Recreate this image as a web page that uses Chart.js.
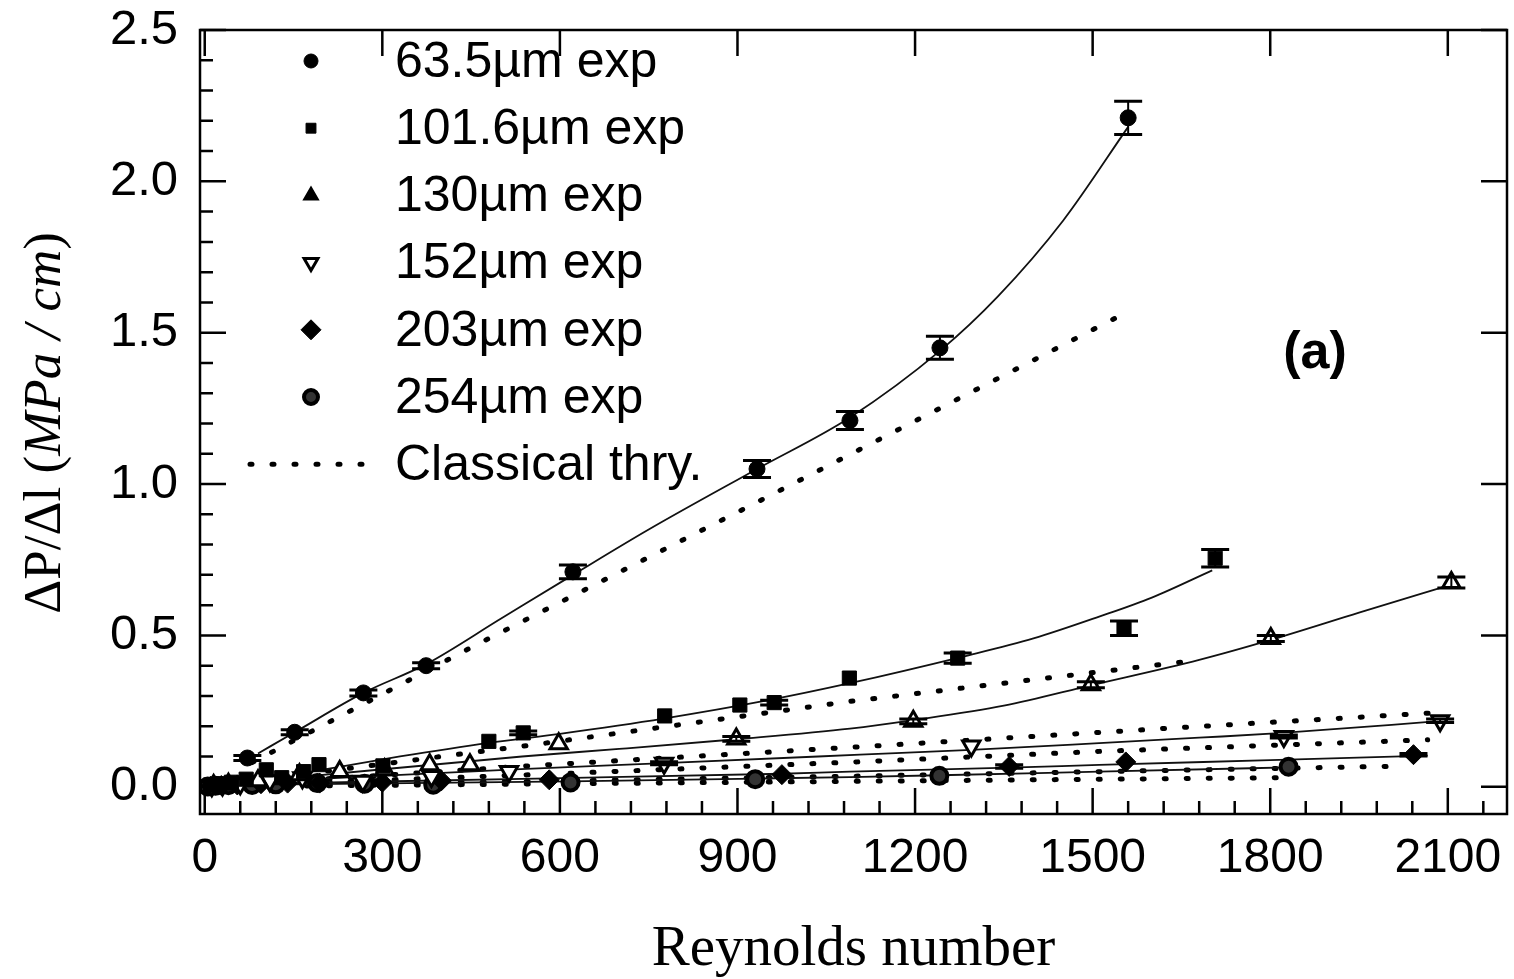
<!DOCTYPE html>
<html>
<head>
<meta charset="utf-8">
<title>Pressure drop vs Reynolds number</title>
<script src="https://cdn.jsdelivr.net/npm/chart.js@4.4.1/dist/chart.umd.min.js"></script>
<style>
  html, body { margin: 0; padding: 0; background: #fff; }
</style>
</head>
<body>
<canvas id="myChart" width="1514" height="979"></canvas>
<script>
// tick labels
const xTicks = [0, 300, 600, 900, 1200, 1500, 1800, 2100];
const yTicks = [0.0, 0.5, 1.0, 1.5, 2.0, 2.5];

// 63.5 um
const re63 = [72, 152, 268, 374, 622, 933, 1090, 1242, 1560];
const dp63 = [0.095, 0.18, 0.31, 0.40, 0.71, 1.05, 1.21, 1.45, 2.21];
const err63 = [0.008, 0.008, 0.01, 0.01, 0.023, 0.028, 0.03, 0.038, 0.055];
const fitRe63 = [90, 152, 268, 374, 500, 622, 750, 933, 1090, 1242, 1340, 1450, 1560];
const fitDp63 = [0.11, 0.18, 0.31, 0.405, 0.555, 0.70, 0.85, 1.05, 1.22, 1.44, 1.62, 1.87, 2.18];
const thRe63 = [80, 450, 933, 1556];
const thDp63 = [0.08, 0.46, 0.94, 1.566];

// 101.6 um
const re101 = [10, 25, 45, 70, 104, 130, 167, 193, 301, 480, 538, 777, 904, 962, 1089, 1272, 1553, 1707];
const dp101 = [0.005, 0.01, 0.015, 0.025, 0.056, 0.03, 0.05, 0.073, 0.069, 0.15, 0.178, 0.234, 0.27, 0.278, 0.359, 0.425, 0.524, 0.755];
const err101 = [0, 0, 0, 0, 0, 0, 0, 0, 0, 0, 0.006, 0, 0, 0.008, 0, 0.017, 0.024, 0.029];
const fitRe101 = [180, 330, 480, 600, 775, 950, 1090, 1281, 1400, 1511, 1600, 1702];
const fitDp101 = [0.05, 0.10, 0.145, 0.175, 0.225, 0.285, 0.342, 0.43, 0.49, 0.562, 0.625, 0.715];
const thRe101 = [60, 568, 1082, 1672];
const thDp101 = [0.015, 0.142, 0.28, 0.417];

// 130 um
const re130 = [15, 40, 90, 160, 228, 304, 380, 448, 598, 898, 1197, 1497, 1801, 2106];
const dp130 = [0.004, 0.008, 0.02, 0.04, 0.05, 0.056, 0.073, 0.073, 0.142, 0.158, 0.216, 0.337, 0.49, 0.675];
const err130 = [0, 0, 0, 0, 0, 0, 0, 0, 0, 0.008, 0.008, 0.01, 0.01, 0.018];
const fitRe130 = [150, 536, 700, 898, 1090, 1197, 1350, 1497, 1680, 1801, 1950, 2106];
const fitDp130 = [0.03, 0.10, 0.125, 0.157, 0.192, 0.22, 0.268, 0.335, 0.419, 0.485, 0.575, 0.668];
const thRe130 = [60, 556, 1107, 1660, 2067];
const thDp130 = [0.008, 0.07, 0.132, 0.197, 0.243];

// 152 um
const re152 = [12, 30, 60, 110, 165, 267, 383, 514, 776, 1295, 1823, 2087];
const dp152 = [0.003, 0.006, 0.01, 0.02, 0.03, 0.018, 0.034, 0.05, 0.078, 0.135, 0.166, 0.218];
const err152 = [0, 0, 0, 0, 0, 0, 0, 0, 0.005, 0, 0.005, 0.006];
const fitRe152 = [150, 534, 776, 1107, 1295, 1511, 1680, 1815, 2100];
const fitDp152 = [0.022, 0.058, 0.078, 0.106, 0.122, 0.144, 0.162, 0.177, 0.219];
const thRe152 = [60, 556, 1101, 1513, 2066];
const thDp152 = [0.005, 0.04, 0.082, 0.117, 0.155];

// 203 um
const re203 = [10, 28, 55, 95, 140, 194, 300, 400, 582, 975, 1359, 1556, 2042];
const dp203 = [0.002, 0.004, 0.006, 0.01, 0.012, 0.012, 0.015, 0.02, 0.023, 0.04, 0.067, 0.082, 0.106];
const err203 = [0, 0, 0, 0, 0, 0, 0, 0, 0, 0, 0.006, 0, 0.004];
const fitRe203 = [150, 582, 975, 1090, 1359, 1511, 1800, 2066];
const fitDp203 = [0.012, 0.028, 0.043, 0.05, 0.063, 0.072, 0.088, 0.103];
const thRe203 = [60, 556, 1100, 1513, 2019];
const thDp203 = [0.003, 0.018, 0.035, 0.05, 0.068];

// 254 um
const re254 = [5, 18, 40, 80, 120, 190, 270, 386, 618, 930, 1241, 1831];
const dp254 = [0.001, 0.003, 0.005, 0.006, 0.008, 0.012, 0.01, 0.007, 0.014, 0.025, 0.036, 0.066];
const fitRe254 = [150, 618, 930, 1090, 1241, 1511, 1831];
const fitDp254 = [0.008, 0.018, 0.027, 0.032, 0.038, 0.05, 0.064];
const thRe254 = [60, 556, 1100, 1829];
const thDp254 = [0.001, 0.009, 0.018, 0.03];

function pts(xs, ys) {
    return xs.map((x, i) => ({ x: x, y: ys[i] }));
}

function markers(label, xs, ys, errs, style) {
    return Object.assign({
        label: label,
        data: pts(xs, ys),
        errors: errs,
        showLine: false,
        legendRow: true,
        borderColor: '#000',
        backgroundColor: '#000'
    }, style);
}

function fitLine(xs, ys) {
    return {
        data: pts(xs, ys),
        showLine: true,
        pointRadius: 0,
        borderColor: '#111',
        borderWidth: 1.8,
        cubicInterpolationMode: 'monotone'
    };
}

function theoryLine(xs, ys, label) {
    return {
        label: label,
        legendRow: !!label,
        legendLine: true,
        data: pts(xs, ys),
        showLine: true,
        pointRadius: 0,
        borderColor: '#000',
        borderWidth: 5,
        borderDash: [2, 20],
        borderCapStyle: 'round',
        tension: 0
    };
}

const datasets = [
    markers('63.5µm exp', re63, dp63, err63, { pointStyle: 'circle', pointRadius: 8, pointBorderWidth: 1 }),
    markers('101.6µm exp', re101, dp101, err101, { pointStyle: 'rect', pointRadius: 10, pointBorderWidth: 1, legendRadius: 7 }),
    markers('130µm exp', re130, dp130, err130, { pointStyle: 'triangle', pointRadius: 10, pointBorderWidth: 3, backgroundColor: '#fff', legendRadius: 7, legendFill: '#000' }),
    markers('152µm exp', re152, dp152, err152, { pointStyle: 'triangle', pointRotation: 180, pointRadius: 10, pointBorderWidth: 3, backgroundColor: '#fff', legendRadius: 8 }),
    markers('203µm exp', re203, dp203, err203, { pointStyle: 'rectRot', pointRadius: 10, pointBorderWidth: 1, legendRadius: 10 }),
    markers('254µm exp', re254, dp254, null, { pointStyle: 'circle', pointRadius: 8, pointBorderWidth: 4, backgroundColor: '#333', legendRadius: 7 }),
    fitLine(fitRe63, fitDp63),
    fitLine(fitRe101, fitDp101),
    fitLine(fitRe130, fitDp130),
    fitLine(fitRe152, fitDp152),
    fitLine(fitRe203, fitDp203),
    fitLine(fitRe254, fitDp254),
    theoryLine(thRe63, thDp63, 'Classical thry.'),
    theoryLine(thRe101, thDp101),
    theoryLine(thRe130, thDp130),
    theoryLine(thRe152, thDp152),
    theoryLine(thRe203, thDp203),
    theoryLine(thRe254, thDp254)
];

// inward ticks and the box around the plot
const frame = {
    id: 'frame',
    afterDraw(chart) {
        const { ctx, chartArea: a, scales: { x, y } } = chart;
        ctx.save();
        ctx.strokeStyle = '#000';
        ctx.lineWidth = 2.5;
        ctx.strokeRect(a.left, a.top, a.right - a.left, a.bottom - a.top);
        ctx.beginPath();
        xTicks.forEach(v => {
            const px = x.getPixelForValue(v);
            ctx.moveTo(px, a.bottom); ctx.lineTo(px, a.bottom - 26);
            ctx.moveTo(px, a.top); ctx.lineTo(px, a.top + 26);
        });
        for (let v = 60; v < x.max; v += 60) {
            if (v % 300 === 0) continue;
            const px = x.getPixelForValue(v);
            ctx.moveTo(px, a.bottom); ctx.lineTo(px, a.bottom - 13);
        }
        yTicks.forEach(v => {
            const py = y.getPixelForValue(v);
            ctx.moveTo(a.left, py); ctx.lineTo(a.left + 26, py);
            ctx.moveTo(a.right, py); ctx.lineTo(a.right - 26, py);
        });
        for (let k = 1; k < 25; k++) {
            if (k % 5 === 0) continue;
            const py = y.getPixelForValue(k / 10);
            ctx.moveTo(a.left, py); ctx.lineTo(a.left + 13, py);
        }
        ctx.stroke();
        ctx.restore();
    }
};

const errorBars = {
    id: 'errorBars',
    afterDatasetsDraw(chart) {
        const { ctx, scales: { y } } = chart;
        ctx.save();
        ctx.strokeStyle = '#000';
        chart.data.datasets.forEach((ds, i) => {
            if (!ds.errors) return;
            chart.getDatasetMeta(i).data.forEach((pt, j) => {
                const e = ds.errors[j];
                if (!e) return;
                const v = ds.data[j].y;
                const top = y.getPixelForValue(v + e);
                const bot = y.getPixelForValue(v - e);
                ctx.lineWidth = 2;
                ctx.beginPath();
                ctx.moveTo(pt.x, top); ctx.lineTo(pt.x, bot);
                ctx.stroke();
                ctx.lineWidth = 3;
                ctx.beginPath();
                ctx.moveTo(pt.x - 14, top); ctx.lineTo(pt.x + 14, top);
                ctx.moveTo(pt.x - 14, bot); ctx.lineTo(pt.x + 14, bot);
                ctx.stroke();
            });
        });
        ctx.restore();
    }
};

const insideLegend = {
    id: 'insideLegend',
    afterDraw(chart, args, opts) {
        const ctx = chart.ctx;
        ctx.save();
        ctx.font = '50px "Liberation Sans"';
        ctx.textBaseline = 'middle';
        ctx.textAlign = 'left';
        let row = 0;
        chart.data.datasets.forEach(ds => {
            if (!ds.legendRow) return;
            const yy = opts.top + row * opts.rowGap;
            ctx.strokeStyle = '#000';
            if (ds.legendLine) {
                ctx.lineWidth = ds.borderWidth;
                ctx.lineCap = ds.borderCapStyle;
                ctx.setLineDash(ds.borderDash);
                ctx.beginPath();
                ctx.moveTo(opts.lineFrom, yy);
                ctx.lineTo(opts.lineTo, yy);
                ctx.stroke();
                ctx.setLineDash([]);
            } else {
                ctx.fillStyle = ds.legendFill || ds.backgroundColor;
                ctx.lineWidth = ds.pointBorderWidth;
                Chart.helpers.drawPoint(ctx, {
                    pointStyle: ds.pointStyle,
                    rotation: ds.pointRotation || 0,
                    radius: ds.legendRadius || 7,
                    borderWidth: ds.pointBorderWidth
                }, opts.markerX, yy);
            }
            ctx.fillStyle = '#000';
            ctx.fillText(ds.label, opts.textX, yy + 2);
            row++;
        });
        ctx.restore();
    }
};

const extraText = {
    id: 'extraText',
    afterDraw(chart) {
        const ctx = chart.ctx;
        ctx.save();
        ctx.fillStyle = '#000';
        // panel label
        ctx.font = 'bold 52px "Liberation Sans"';
        ctx.textAlign = 'center';
        ctx.textBaseline = 'middle';
        ctx.fillText('(a)', 1315, 354);
        // y axis title with italic unit
        const parts = [['ΔP/Δl (', 'normal'], ['MPa / cm', 'italic'], [')', 'normal']];
        ctx.translate(46, 423);
        ctx.rotate(-Math.PI / 2);
        ctx.textAlign = 'left';
        let total = 0;
        parts.forEach(p => {
            ctx.font = p[1] + ' 53px "Liberation Serif"';
            total += ctx.measureText(p[0]).width;
        });
        let cx = -total / 2;
        parts.forEach(p => {
            ctx.font = p[1] + ' 53px "Liberation Serif"';
            ctx.fillText(p[0], cx, 0);
            cx += ctx.measureText(p[0]).width;
        });
        ctx.restore();
    }
};

new Chart(document.querySelector('#myChart'), {
    type: 'scatter',
    data: { datasets: datasets },
    options: {
        responsive: false,
        animation: false,
        devicePixelRatio: 1,
        layout: { autoPadding: false, padding: { top: 30, right: 7, left: 0, bottom: 0 } },
        plugins: {
            legend: { display: false },
            tooltip: { enabled: false },
            insideLegend: { markerX: 311, textX: 395, top: 61, rowGap: 67.2, lineFrom: 250, lineTo: 366 }
        },
        scales: {
            x: {
                type: 'linear',
                min: -8,
                max: 2200,
                afterBuildTicks: s => { s.ticks = xTicks.map(v => ({ value: v })); },
                afterFit: s => { s.height = 165; s.paddingLeft = 0; s.paddingRight = 0; },
                grid: { display: false, drawTicks: false },
                border: { display: false },
                ticks: {
                    padding: 16,
                    maxRotation: 0,
                    autoSkip: false,
                    color: '#000',
                    font: { family: 'Liberation Sans', size: 48 },
                    callback: v => String(v)
                },
                title: {
                    display: true,
                    text: 'Reynolds number',
                    color: '#000',
                    font: { family: 'Liberation Serif', size: 57, lineHeight: 1 },
                    padding: { top: 0, bottom: 0 }
                }
            },
            y: {
                type: 'linear',
                min: -0.09,
                max: 2.5,
                afterBuildTicks: s => { s.ticks = yTicks.map(v => ({ value: v })); },
                afterFit: s => { s.width = 200; s.paddingTop = 0; s.paddingBottom = 0; },
                grid: { display: false, drawTicks: false },
                border: { display: false },
                ticks: {
                    padding: 22,
                    autoSkip: false,
                    color: '#000',
                    font: { family: 'Liberation Sans', size: 49 },
                    callback: v => v.toFixed(1)
                }
            }
        }
    },
    plugins: [frame, errorBars, insideLegend, extraText]
});
</script>
</body>
</html>
